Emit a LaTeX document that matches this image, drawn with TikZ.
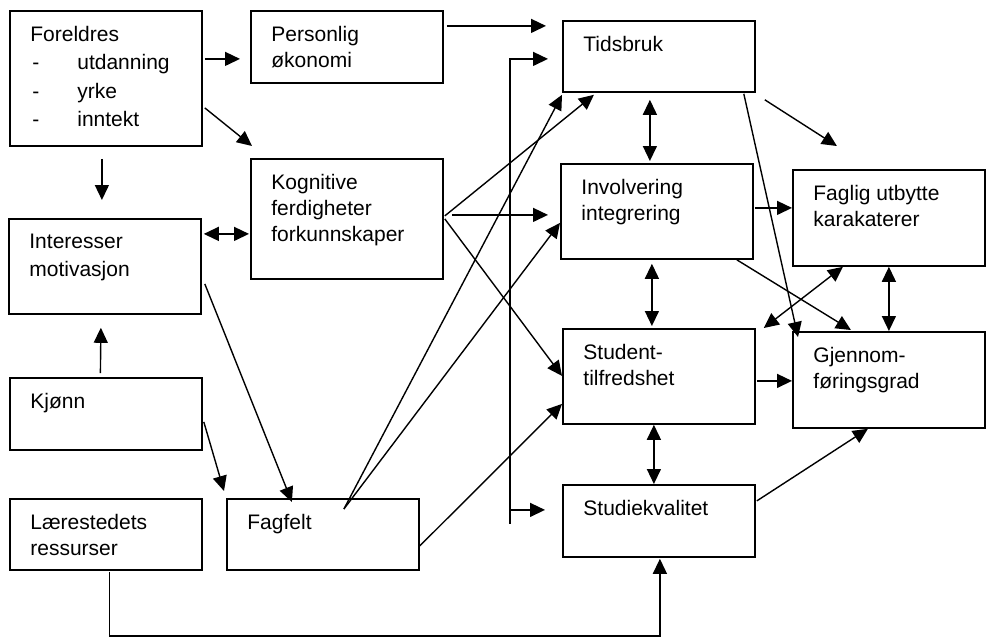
\documentclass[tikz,border=0pt]{standalone}
\usepackage{fontspec}
\setmainfont{Liberation Sans}
\usetikzlibrary{arrows.meta,calc}
\newcommand{\punkt}{\makebox[23.5pt][l]{\hspace{1pt}-}}

\begin{document}
\begin{tikzpicture}[x=0.5pt,y=-0.5pt,
   boks/.style={draw,line width=0.9pt,minimum width=96pt,minimum height=#1,anchor=north west,inner sep=0pt},
   tekst/.style={anchor=north west,align=left,inner sep=0pt,xshift=10.5pt,yshift=-7.75pt,font=\fontsize{10.5}{13}\selectfont},
   pil/.style={line width=0.7pt,-{Triangle[length=7.5pt,width=7pt]}},
   dobbel/.style={line width=0.7pt,{Triangle[length=7.5pt,width=7pt]}-{Triangle[length=7.5pt,width=7pt]}}]
   \useasboundingbox (0,0) rectangle (988,637);

   \node[boks=67.5pt,label={[tekst]north west:Foreldres\\[1.3pt]\punkt utdanning\\[1.3pt]\punkt yrke\\[1.3pt]\punkt inntekt}] (foreldre) at (9,10) {};
   \node[boks=36pt,label={[tekst]north west:Personlig\\økonomi}] (okonomi) at (250,10) {};
   \node[boks=60pt,label={[tekst]north west:Kognitive\\ferdigheter\\forkunnskaper}] (kognitiv) at (250,158) {};
   \node[boks=47.5pt,label={[tekst]north west:Interesser\\[1pt]motivasjon}] (interesse) at (8,218) {};
   \node[boks=36pt,label={[tekst]north west:Kjønn}] (kjonn) at (9,377) {};
   \node[boks=35.5pt,label={[tekst]north west:Lærestedets\\ressurser}] (ressurs) at (9,498) {};
   \node[boks=35.5pt,label={[tekst]north west:Fagfelt}] (fagfelt) at (226,498) {};
   \node[boks=35.5pt,label={[tekst]north west:Tidsbruk}] (tidsbruk) at (562,20) {};
   \node[boks=47.5pt,label={[tekst]north west:Involvering\\integrering}] (involv) at (560,163) {};
   \node[boks=48pt,label={[tekst]north west:Faglig utbytte\\karakaterer}] (utbytte) at (792,169) {};
   \node[boks=47.5pt,label={[tekst]north west:Student-\\tilfredshet}] (tilfreds) at (562,328) {};
   \node[boks=48pt,label={[tekst]north west:Gjennom-\\føringsgrad}] (gjennom) at (792,331) {};
   \node[boks=36pt,label={[tekst]north west:Studiekvalitet}] (kvalitet) at (562,484) {};

   \coordinate (ffstart) at ($(fagfelt.north)+(21,11)$);
   \coordinate (stamme) at ($(kvalitet.west)+(-52,3)$);

   \draw[pil] ($(foreldre.east)+(2,-19.5)$) -- ($(okonomi.west)+(-10,12)$);
   \draw[pil] ($(foreldre.east)+(2,29.5)$) -- ($(kognitiv.north west)+(2,-12)$);
   \draw[pil] ($(foreldre.south)+(-4,12)$) -- ($(interesse.north)+(-3,-18)$);
   \draw[dobbel] ($(interesse.east)+(2,-32.5)$) -- ($(kognitiv.west)+(-1,15)$);
   \draw[pil] ($(interesse.east)+(3,17.5)$) -- ($(fagfelt.north)+(-31,4)$);
   \draw[pil] ($(kjonn.north)+(-5.5,-4)$) -- ($(interesse.south)+(-4,13)$);
   \draw[pil] ($(kjonn.east)+(1,8)$) -- ($(fagfelt.north west)+(-2,-7)$);
   \draw[pil] ($(ressurs.south)+(3.5,1)$) -- ++(0,64) -| ($(kvalitet.south)+(1,1)$);

   \draw[pil] (ffstart) -- ($(tidsbruk.south west)+(0,2)$);
   \draw[pil] (ffstart) -- ($(involv.west)+(0,11.5)$);
   \draw[pil] ($(fagfelt.east)+(0,11.5)$) -- ($(tilfreds.west)+(0,27.5)$);

   \draw[pil] ($(kognitiv.east)+(1,-3)$) -- ($(tidsbruk.south)+(-65,2)$);
   \draw[pil] ($(kognitiv.east)+(8,-4)$) -- ($(involv.west)+(-12,3.5)$);
   \draw[pil] ($(kognitiv.east)+(1,0)$) -- ($(tilfreds.west)+(0,-0.5)$);
   \draw[pil] ($(okonomi.east)+(3,-21)$) -- ($(tidsbruk.west)+(-16,-30.5)$);

   \draw[pil] (stamme) -- ($(tidsbruk.west)+(-52,2.5)$) -- ($(tidsbruk.west)+(-14,2.5)$);
   \draw[pil] ($(kvalitet.west)+(-52,-11)$) -- ($(kvalitet.west)+(-17,-11)$);

   \draw[dobbel] ($(tidsbruk.south)+(-9,7)$) -- ($(involv.north)+(-7,-2)$);
   \draw[dobbel] ($(involv.south)+(-5,4)$) -- ($(tilfreds.north)+(-7,-2)$);
   \draw[dobbel] ($(tilfreds.south)+(-5,0)$) -- ($(kvalitet.north)+(-5,0)$);

   \draw[pil] ($(tidsbruk.south east)+(9,7)$) -- ($(utbytte.north)+(-52,-23)$);
   \draw[pil] ($(tidsbruk.south east)+(-12,1)$) -- ($(gjennom.north west)+(6,6)$);
   \draw[pil] ($(involv.east)+(1,-3.5)$) -- ($(utbytte.west)+(0,-10)$);
   \draw[pil] ($(involv.south east)+(-17,0)$) -- ($(gjennom.north)+(-38,-1)$);
   \draw[dobbel] ($(utbytte.south)+(-46,0)$) -- ($(tilfreds.north east)+(8,0)$);
   \draw[dobbel] (utbytte.south) -- (gjennom.north);
   \draw[pil] ($(tilfreds.east)+(1,4.5)$) -- ($(gjennom.west)+(0,1)$);
   \draw[pil] ($(kvalitet.east)+(1,-20)$) -- ($(gjennom.south)+(-21,0)$);
\end{tikzpicture}
\end{document}
